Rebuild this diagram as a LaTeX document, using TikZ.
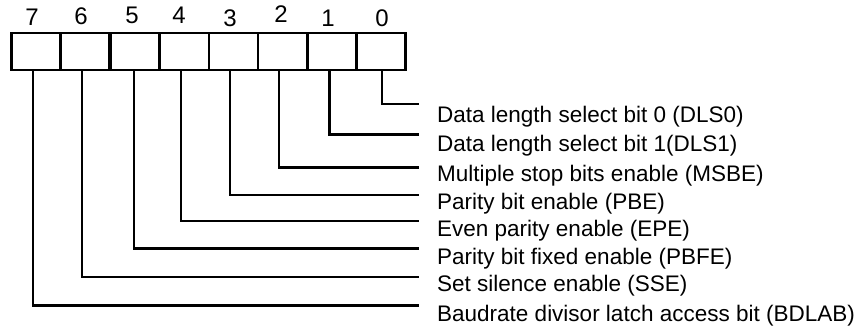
\documentclass[tikz,border=0pt]{standalone}
\usepackage{fontspec}
\setmainfont{Liberation Sans}

\begin{document}
\begin{tikzpicture}[x=1pt,y=-1pt,
	cell/.style={draw, line width=2.4pt, minimum width=49.1pt, minimum height=37pt, inner sep=0pt},
	bitno/.style={font=\fontsize{24}{28}\selectfont, inner sep=0pt},
	field/.style={font=\fontsize{22.5}{26}\selectfont, anchor=base west, inner sep=0pt},
	wire/.style={line width=2.2pt}]
	\useasboundingbox (0,0) rectangle (860,329);

	\node at (36,51.5) [cell] (b7) {};
	\node at (85,51.5) [cell] (b6) {};
	\node at (135,51.5) [cell] (b5) {};
	\node at (184.5,51.5) [cell] (b4) {};
	\node at (233.5,51.5) [cell] (b3) {};
	\node at (282.5,51.5) [cell] (b2) {};
	\node at (332,51.5) [cell] (b1) {};
	\node at (381,51.5) [cell] (b0) {};

	\node at (32,17) [bitno] (n7) {7};
	\node at (81,16.5) [bitno] (n6) {6};
	\node at (132,15.5) [bitno] (n5) {5};
	\node at (179,15.5) [bitno] (n4) {4};
	\node at (230,18.5) [bitno] (n3) {3};
	\node at (281,14.5) [bitno] (n2) {2};
	\node at (328,18.5) [bitno] (n1) {1};
	\node at (382,18.5) [bitno] (n0) {0};

	\node at (437,122) [field] (f0) {Data length select bit 0 (DLS0)};
	\node at (437,151) [field] (f1) {Data length select bit 1(DLS1)};
	\node at (437,181) [field] (f2) {Multiple stop bits enable (MSBE)};
	\node at (437,209) [field] (f3) {Parity bit enable (PBE)};
	\node at (437,236) [field] (f4) {Even parity enable (EPE)};
	\node at (437,264) [field] (f5) {Parity bit fixed enable (PBFE)};
	\node at (437,291) [field] (f6) {Set silence enable (SSE)};
	\node at (437,321) [field] (f7) {Baudrate divisor latch access bit (BDLAB)};

	\coordinate (e0) at (419,104);
	\coordinate (e1) at (419,134.5);
	\coordinate (e2) at (419,167.5);
	\coordinate (e3) at (419,195);
	\coordinate (e4) at (419,221);
	\coordinate (e5) at (419,248.5);
	\coordinate (e6) at (419,277);
	\coordinate (e7) at (419,305.5);

	\draw [wire] ([xshift=1pt]b0.south) |- (e0);
	\draw [wire] ([xshift=-2.5pt]b1.south) |- (e1);
	\draw [wire] ([xshift=-3.5pt]b2.south) |- (e2);
	\draw [wire] ([xshift=-3.5pt]b3.south) |- (e3);
	\draw [wire] ([xshift=-3.5pt]b4.south) |- (e4);
	\draw [wire] ([xshift=-1pt]b5.south) |- (e5);
	\draw [wire] ([xshift=-3pt]b6.south) |- (e6);
	\draw [wire] ([xshift=-3pt]b7.south) |- (e7);
\end{tikzpicture}
\end{document}
